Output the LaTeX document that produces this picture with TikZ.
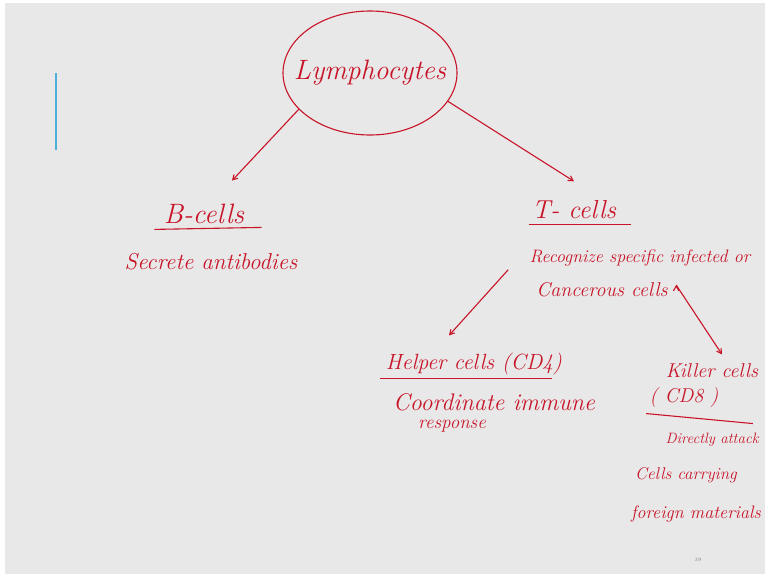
\documentclass[tikz,border=0pt]{standalone}
\usepackage{tikz}
\usetikzlibrary{arrows,shapes.geometric,positioning}

\definecolor{ink}{RGB}{200,20,40}
\definecolor{slide}{RGB}{232,232,232}
\definecolor{pen}{RGB}{80,175,215}

\newcommand{\hw}[1]{\fontsize{#1}{#1}\selectfont\itshape}

\begin{document}
\begin{tikzpicture}[x=1pt,y=-1pt,>=angle 60,line width=1.1pt]
  \tikzstyle{every node}=[text=ink,inner sep=1pt]
  \tikzstyle{big}=[font=\hw{28}]
  \tikzstyle{mid}=[font=\hw{20}]
  \tikzstyle{small}=[font=\hw{16}]

  \useasboundingbox (0,0) rectangle (765,576);
  \fill[white] (0,0) rectangle (765,576);
  \fill[slide] (5,3) rectangle (765,574);
  \draw[pen,line width=1.4pt] (56,73) -- (56,150);

  \node[ellipse,draw=ink,font=\hw{28},inner xsep=-24pt,inner ysep=0pt,
        minimum width=174,minimum height=124] (lym) at (370,73) {Lymphocytes};

  \node[big]                (b)  at (204,214) {B-cells};
  \node[font=\hw{23}]       (b1) at (211,262) {Secrete antibodies};

  \node[font=\hw{26}]       (t)  at (574,210) {T- cells};
  \node[font=\hw{18}]       (t1) at (640,258) {Recognize specific infected or};
  \node[mid]                (t2) at (602,290) {Cancerous cells};

  \node[font=\hw{22}]       (h)  at (474,364) {Helper cells (CD4)};
  \node[font=\hw{24}]       (h1) at (494,402) {Coordinate immune};
  \node[font=\hw{19}]       (h2) at (452,426) {response};

  \node[mid]                (k)  at (712,371) {Killer cells};
  \node[mid]                (k0) at (684,398) {( CD8 )};
  \node[font=\hw{15}]       (k1) at (712,440) {Directly attack};
  \node[font=\hw{17}]       (k2) at (686,475) {Cells carrying};
  \node[font=\hw{18}]       (k3) at (696,514) {foreign materials};

  \node[text=gray,font=\tiny] (pg) at (698,560) {39};

  % underlines
  \draw[ink] ([xshift=-8pt,yshift=-4pt]b.south west) -- ([xshift=16pt,yshift=-2pt]b.south east);
  \draw[ink] ([xshift=-2pt,yshift=-4pt]t.south west) -- ([xshift=14pt,yshift=-4pt]t.south east);
  \draw[ink] ([xshift=-4pt,yshift=-2pt]h.south west) -- ([xshift=-12pt,yshift=-2pt]h.south east);
  \draw[ink] ([xshift=-2pt,yshift=-4pt]k0.south west) -- ([xshift=33pt,yshift=-14pt]k0.south east);

  \path[->,draw=ink]
  (lym.207) edge ([xshift=28pt,yshift=22pt]b.north)
  (lym.340) edge ([yshift=18pt]t.north)
  ([xshift=-20pt,yshift=-2pt]t1.south west) edge ([xshift=-25pt,yshift=16pt]h.north)
  ([xshift=7pt,yshift=5pt]t2.east) edge ([xshift=10pt,yshift=8pt]k.north);
\end{tikzpicture}
\end{document}
